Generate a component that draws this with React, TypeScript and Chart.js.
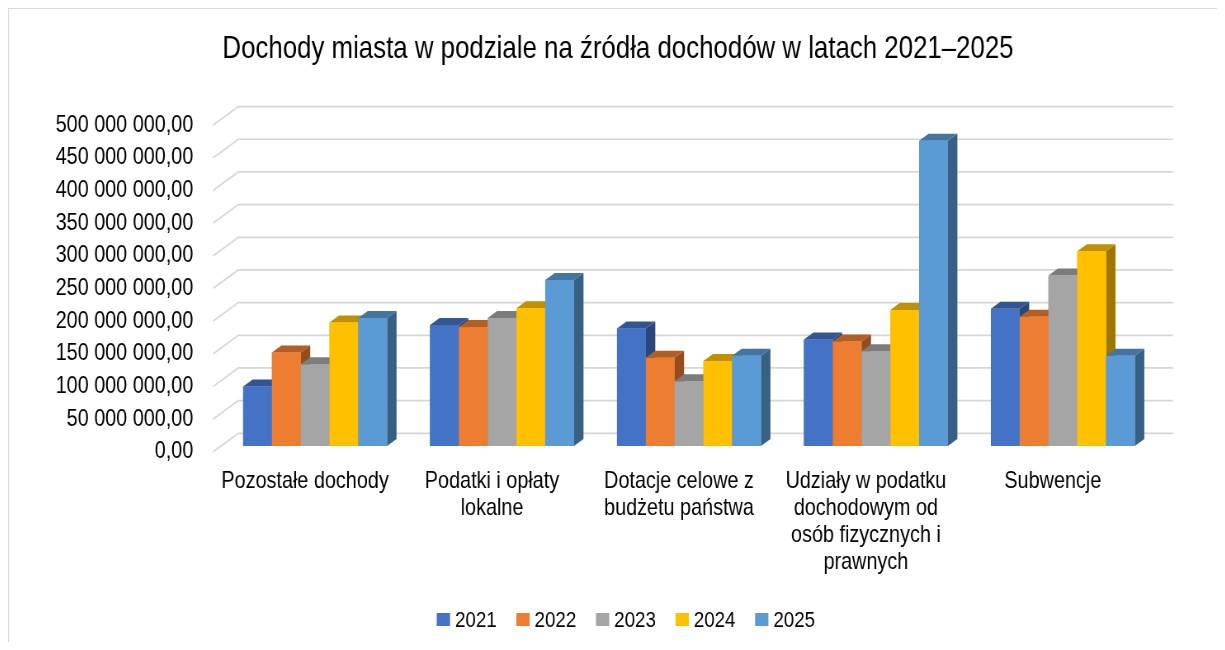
import React, { useEffect, useRef } from 'react';
import { Chart, registerables } from 'chart.js';

Chart.register(...registerables);

const FONT = "'Liberation Sans', Arial, sans-serif";

const chartTitle = 'Dochody miasta w podziale na źródła dochodów w latach 2021–2025';

const categories: (string | string[])[] = [
  'Pozostałe dochody',
  ['Podatki i opłaty', 'lokalne'],
  ['Dotacje celowe z', 'budżetu państwa'],
  ['Udziały w podatku', 'dochodowym od', 'osób fizycznych i', 'prawnych'],
  'Subwencje',
];

const seriesYears = ['2021', '2022', '2023', '2024', '2025'];

const values2021 = [91000000, 185000000, 180000000, 163000000, 210000000];
const values2022 = [143000000, 182000000, 135000000, 160000000, 198000000];
const values2023 = [125000000, 196000000, 99000000, 145000000, 261000000];
const values2024 = [189000000, 211000000, 130000000, 208000000, 298000000];
const values2025 = [196000000, 254000000, 138000000, 467000000, 138000000];

const seriesValues = [values2021, values2022, values2023, values2024, values2025];
const seriesColors = ['#4472C4', '#ED7D31', '#A5A5A5', '#FFC000', '#5B9BD5'];

const yMin = 0;
const yMax = 500000000;
const yStep = 50000000;

// The picture is horizontally condensed: the canvas is drawn wider and shown squeezed.
const CSS_W = 1209;
const CSS_H = 634;
const LOGICAL_W = 1465;
const SX = CSS_W / LOGICAL_W; // ~0.825
const lx = (px: number) => px / SX; // css px -> logical px (horizontal)

function shade(hex: string, f: number): string {
  const n = parseInt(hex.slice(1), 16);
  const r = Math.round(((n >> 16) & 255) * f);
  const g = Math.round(((n >> 8) & 255) * f);
  const b = Math.round((n & 255) * f);
  return `rgb(${r},${g},${b})`;
}

function formatPl(v: number): string {
  const s = Math.round(v).toString().replace(/\B(?=(\d{3})+(?!\d))/g, ' ');
  return s + ',00';
}

// 3D geometry (css px converted to logical)
const BAR_DX = lx(9.5);
const BAR_DY = -7;
const WALL_DX = lx(16.7);
const WALL_DY = -12.7;
const FRONT_DX = lx(-8.3);
const FRONT_DY = 5.7;

const threeDPlugin = {
  id: 'threeD',
  beforeDraw(chart: any) {
    const { ctx, width, height } = chart;
    ctx.save();
    ctx.fillStyle = '#d9d9d9';
    ctx.fillRect(0, 0, lx(1), height);
    ctx.fillRect(0, 0, width, 1);
    ctx.restore();
  },
  beforeDatasetsDraw(chart: any) {
    const { ctx, chartArea } = chart;
    const y = chart.scales.y;
    ctx.save();
    ctx.strokeStyle = '#d6d6d6';
    ctx.lineWidth = 1.7;
    y.ticks.forEach((t: any) => {
      const py = y.getPixelForValue(t.value);
      ctx.beginPath();
      ctx.moveTo(chartArea.left + FRONT_DX, py + FRONT_DY);
      ctx.lineTo(chartArea.left + WALL_DX, py + WALL_DY);
      ctx.lineTo(chartArea.right + WALL_DX, py + WALL_DY);
      ctx.stroke();
    });
    ctx.restore();
  },
  afterDatasetsDraw(chart: any) {
    const { ctx } = chart;
    const n = chart.data.labels.length;
    ctx.save();
    for (let i = 0; i < n; i++) {
      chart.data.datasets.forEach((ds: any, di: number) => {
        const meta = chart.getDatasetMeta(di);
        const bar = meta.data[i];
        if (!bar) return;
        const { x, y, base, width } = bar.getProps(['x', 'y', 'base', 'width'], true);
        const color = ds.backgroundColor as string;
        const l = x - width / 2;
        const r = x + width / 2;
        // side face
        ctx.fillStyle = shade(color, 0.62);
        ctx.beginPath();
        ctx.moveTo(r, base);
        ctx.lineTo(r + BAR_DX, base + BAR_DY);
        ctx.lineTo(r + BAR_DX, y + BAR_DY);
        ctx.lineTo(r, y);
        ctx.closePath();
        ctx.fill();
        // top face
        ctx.fillStyle = shade(color, 0.75);
        ctx.beginPath();
        ctx.moveTo(l, y);
        ctx.lineTo(l + BAR_DX, y + BAR_DY);
        ctx.lineTo(r + BAR_DX, y + BAR_DY);
        ctx.lineTo(r, y);
        ctx.closePath();
        ctx.fill();
        // front face
        ctx.fillStyle = color;
        ctx.fillRect(l, y, width, base - y);
      });
    }
    ctx.restore();
  },
  afterDraw(chart: any) {
    const { ctx } = chart;
    ctx.save();
    // title
    ctx.fillStyle = '#000000';
    ctx.font = `31.3px ${FONT}`;
    ctx.textAlign = 'center';
    ctx.textBaseline = 'alphabetic';
    ctx.fillText(chartTitle, lx(610), 50.3);
    // legend
    ctx.font = `22.7px ${FONT}`;
    ctx.textAlign = 'left';
    chart.data.datasets.forEach((ds: any, i: number) => {
      const bx = lx(428.7 + i * 79.6);
      ctx.fillStyle = ds.backgroundColor;
      ctx.fillRect(bx, 605, lx(13.3), 13);
      ctx.fillStyle = '#000000';
      ctx.fillText(ds.label, bx + lx(18.3), 619.3);
    });
    ctx.restore();
  },
};

export default function App() {
  const canvasRef = useRef<HTMLCanvasElement | null>(null);

  useEffect(() => {
    if (!canvasRef.current) return;
    const chart = new Chart(canvasRef.current, {
      type: 'bar',
      data: {
        labels: categories as any,
        datasets: seriesYears.map((yr, i) => ({
          label: yr,
          data: seriesValues[i],
          backgroundColor: seriesColors[i],
          borderWidth: 0,
          categoryPercentage: 0.77,
          barPercentage: 1.0,
        })),
      },
      options: {
        responsive: false,
        animation: false,
        events: [],
        layout: { padding: { left: lx(42), right: LOGICAL_W - lx(1148.3), top: 111.3, bottom: 47 } },
        plugins: {
          title: { display: false },
          legend: { display: false },
          tooltip: { enabled: false },
        },
        scales: {
          x: {
            grid: { display: false, drawTicks: false },
            border: { display: false },
            ticks: {
              color: '#000000',
              font: { family: FONT, size: 24, lineHeight: 1.125 },
              padding: 22.2,
              labelOffset: lx(-10),
              autoSkip: false,
              maxRotation: 0,
              minRotation: 0,
            },
            afterFit: (scale: any) => {
              scale.height = 149;
            },
          },
          y: {
            min: yMin,
            max: yMax,
            grid: { display: false, drawTicks: false },
            border: { display: false },
            ticks: {
              stepSize: yStep,
              color: '#000000',
              font: { family: FONT, size: 24 },
              padding: lx(28.3),
              labelOffset: 5.7,
              callback: (v: any) => formatPl(Number(v)),
            },
            afterFit: (scale: any) => {
              scale.width = lx(213.6) - lx(42);
            },
          },
        },
      },
      plugins: [threeDPlugin],
    });
    return () => chart.destroy();
  }, []);

  return (
    <div style={{ width: CSS_W, height: CSS_H }}>
      <canvas
        ref={canvasRef}
        width={LOGICAL_W}
        height={CSS_H}
        style={{ display: 'block', width: CSS_W, height: CSS_H }}
      />
    </div>
  );
}
